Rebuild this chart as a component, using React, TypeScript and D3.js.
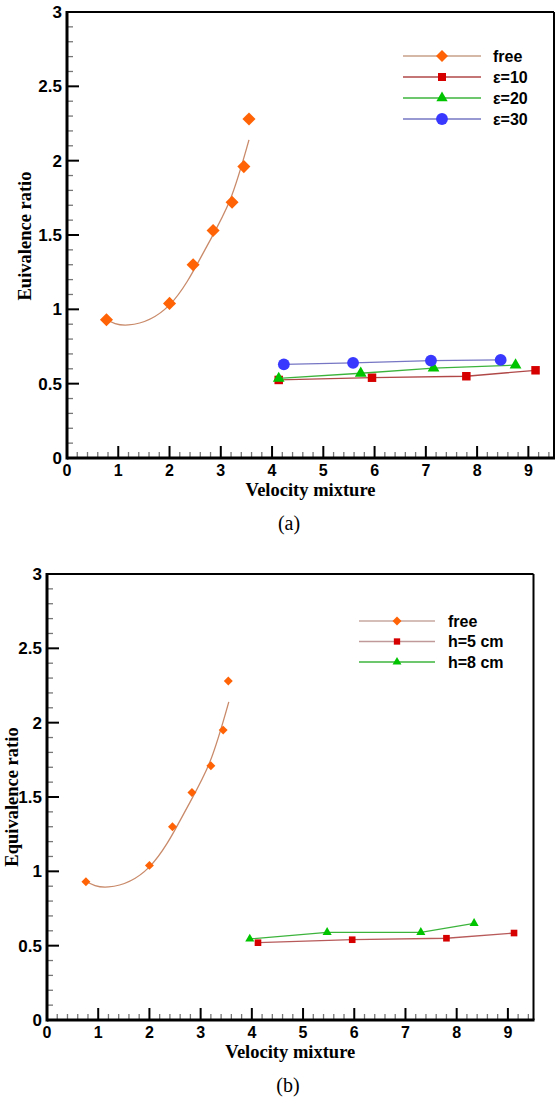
import * as d3 from "d3";
import React from "react";

// tick values
const xTicks = [0, 1, 2, 3, 4, 5, 6, 7, 8, 9];
const yTicks = [0, 0.5, 1, 1.5, 2, 2.5, 3];

// panel (a)
const freeAX = [0.77, 2.0, 2.46, 2.85, 3.22, 3.45, 3.55];
const freeAY = [0.93, 1.04, 1.3, 1.53, 1.72, 1.96, 2.28];
const eps10X = [4.13, 5.95, 7.79, 9.14];
const eps10Y = [0.525, 0.54, 0.55, 0.59];
const eps20X = [4.13, 5.73, 7.15, 8.75];
const eps20Y = [0.535, 0.57, 0.605, 0.625];
const eps30X = [4.23, 5.58, 7.1, 8.46];
const eps30Y = [0.63, 0.64, 0.655, 0.66];

// panel (b)
const freeBX = [0.76, 2.0, 2.45, 2.83, 3.2, 3.44, 3.54];
const freeBY = [0.93, 1.04, 1.3, 1.53, 1.71, 1.95, 2.28];
const h5X = [4.12, 5.96, 7.8, 9.12];
const h5Y = [0.52, 0.54, 0.55, 0.585];
const h8X = [3.96, 5.47, 7.3, 8.34];
const h8Y = [0.545, 0.59, 0.59, 0.65];

// trend curve through the free points
const fitX = [0.75, 1.2, 2.0, 2.69, 3.18, 3.55];
const fitY = [0.935, 0.895, 1.03, 1.4, 1.735, 2.14];

const zip = (xs: number[], ys: number[]) => xs.map((x, i) => [x, ys[i]] as [number, number]);

const markerPath = (kind: string, size: number) => {
  if (kind === "diamond") return d3.symbol(d3.symbolSquare, size)()!;
  if (kind === "square") return d3.symbol(d3.symbolSquare, size)()!;
  if (kind === "triangle") return d3.symbol(d3.symbolTriangle, size)()!;
  return d3.symbol(d3.symbolCircle, size)()!;
};

const Marker = ({ kind, size, fill, x, y }: any) => (
  <path
    d={markerPath(kind, size)}
    fill={fill}
    transform={`translate(${x},${y})${kind === "diamond" ? " rotate(45)" : ""}`}
  />
);

const sans = "'Liberation Sans', Arial, sans-serif";
const serif = "'Liberation Serif', 'Times New Roman', serif";

function Panel({ left, right, top, bottom, series, legend, yTitle, yTitleX, tag }: any) {
  const x = d3.scaleLinear().domain([0, 9.5]).range([left, right]);
  const y = d3.scaleLinear().domain([0, 3]).range([bottom, top]);
  const xMinor = d3.range(0, 9.5, 0.2).filter((v) => Math.abs(v - Math.round(v)) > 0.01);
  const yMinor = d3.range(0, 3, 0.1).filter((v) => Math.abs(v * 2 - Math.round(v * 2)) > 0.01);
  const line = d3.line<[number, number]>().x((d) => x(d[0])).y((d) => y(d[1]));
  const fitLine = d3
    .line<[number, number]>()
    .x((d) => x(d[0]))
    .y((d) => y(d[1]))
    .curve(d3.curveNatural);

  return (
    <g>
      {/* frame */}
      <line x1={left} x2={right} y1={top} y2={top} stroke="#000" strokeWidth={2} />
      <line x1={right} x2={right} y1={top} y2={bottom} stroke="#000" strokeWidth={2} />

      {/* minor ticks */}
      {xMinor.map((v) => (
        <line key={"xm" + v} x1={x(v)} x2={x(v)} y1={bottom} y2={bottom - 6} stroke="#777" strokeWidth={1.3} />
      ))}
      {yMinor.map((v) => (
        <line key={"ym" + v} x1={left} x2={left + 6} y1={y(v)} y2={y(v)} stroke="#777" strokeWidth={1.3} />
      ))}
      {/* major ticks */}
      {xTicks.map((v) => (
        <line key={"xM" + v} x1={x(v)} x2={x(v)} y1={bottom} y2={bottom - 12} stroke="#000" strokeWidth={2} />
      ))}
      {yTicks.map((v) => (
        <line key={"yM" + v} x1={left} x2={left + 12} y1={y(v)} y2={y(v)} stroke="#000" strokeWidth={2} />
      ))}

      {/* axes */}
      <line x1={left} x2={right + 1} y1={bottom} y2={bottom} stroke="#000" strokeWidth={3} />
      <line x1={left} x2={left} y1={top - 1} y2={bottom + 1.5} stroke="#000" strokeWidth={3} />

      {/* tick labels */}
      {xTicks.map((v) => (
        <text key={"xl" + v} x={x(v)} y={bottom + 17.5} textAnchor="middle" fontFamily={sans} fontWeight="bold" fontSize={16}>
          {v}
        </text>
      ))}
      {yTicks.map((v) => (
        <text key={"yl" + v} x={left - 5} y={y(v) + 6} textAnchor="end" fontFamily={sans} fontWeight="bold" fontSize={17}>
          {v}
        </text>
      ))}

      {/* titles */}
      <text x={(left + right) / 2} y={bottom + 37.5} textAnchor="middle" fontFamily={serif} fontWeight="bold" fontSize={18.5}>
        Velocity mixture
      </text>
      <text
        transform={`translate(${yTitleX},${yTitle.cy}) rotate(-90)`}
        textAnchor="middle"
        fontFamily={serif}
        fontWeight="bold"
        fontSize={18.5}
      >
        {yTitle.text}
      </text>
      <text x={tag.x} y={tag.y} textAnchor="middle" fontFamily={serif} fontSize={20}>
        {tag.text}
      </text>

      {/* fit curve */}
      <path d={fitLine(zip(fitX, fitY))!} fill="none" stroke="#c98a6a" strokeWidth={1.3} />

      {/* series */}
      {series.map((s: any) => (
        <g key={s.name}>
          {s.line && <path d={line(zip(s.xs, s.ys))!} fill="none" stroke={s.stroke} strokeWidth={1.3} />}
          {zip(s.xs, s.ys).map((d, i) => (
            <Marker key={i} kind={s.kind} size={s.size} fill={s.fill} x={x(d[0])} y={y(d[1])} />
          ))}
        </g>
      ))}

      {/* legend */}
      {series.map((s: any, i: number) => {
        const ly = legend.y0 + i * legend.dy;
        return (
          <g key={"lg" + s.name}>
            <line x1={legend.x1} x2={legend.x2} y1={ly} y2={ly} stroke={s.legendStroke} strokeWidth={1.5} />
            <Marker kind={s.kind} size={s.legendSize} fill={s.fill} x={(legend.x1 + legend.x2) / 2} y={ly} />
            <text x={legend.tx} y={ly + 5.5} fontFamily={sans} fontWeight="bold" fontSize={16}>
              {s.name}
            </text>
          </g>
        );
      })}
    </g>
  );
}

export default function App() {
  const seriesA = [
    { name: "free", xs: freeAX, ys: freeAY, kind: "diamond", size: 85, legendSize: 72, fill: "#ff6305", stroke: "#c98a6a", legendStroke: "#c9a08a", line: false },
    { name: "ε=10", xs: eps10X, ys: eps10Y, kind: "square", size: 72, legendSize: 64, fill: "#d60000", stroke: "#b04848", legendStroke: "#b04848", line: true },
    { name: "ε=20", xs: eps20X, ys: eps20Y, kind: "triangle", size: 60, legendSize: 55, fill: "#00c400", stroke: "#3cb43c", legendStroke: "#3cb43c", line: true },
    { name: "ε=30", xs: eps30X, ys: eps30Y, kind: "circle", size: 110, legendSize: 110, fill: "#3838ff", stroke: "#7676c4", legendStroke: "#7676c4", line: true },
  ];
  const seriesB = [
    { name: "free", xs: freeBX, ys: freeBY, kind: "diamond", size: 40, legendSize: 40, fill: "#ff6305", stroke: "#c98a6a", legendStroke: "#c9a8a0", line: false },
    { name: "h=5 cm", xs: h5X, ys: h5Y, kind: "square", size: 44, legendSize: 40, fill: "#d60000", stroke: "#b85a5a", legendStroke: "#c09a9a", line: true },
    { name: "h=8 cm", xs: h8X, ys: h8Y, kind: "triangle", size: 36, legendSize: 34, fill: "#00c400", stroke: "#3cb43c", legendStroke: "#3cb43c", line: true },
  ];

  return (
    <svg width={557} height={1103} style={{ position: "absolute", left: 0, top: 0, background: "#fff" }}>
      <Panel
        left={67}
        right={554}
        top={12}
        bottom={458}
        series={seriesA}
        legend={{ x1: 403, x2: 481, tx: 493, y0: 56, dy: 21 }}
        yTitle={{ text: "Euivalence ratio", cy: 236 }}
        yTitleX={31}
        tag={{ text: "(a)", x: 289, y: 530 }}
      />
      <Panel
        left={47}
        right={533.5}
        top={574}
        bottom={1020}
        series={seriesB}
        legend={{ x1: 359, x2: 435, tx: 448, y0: 621, dy: 20.5 }}
        yTitle={{ text: "Equivalence ratio", cy: 797 }}
        yTitleX={17.5}
        tag={{ text: "(b)", x: 288, y: 1092 }}
      />
    </svg>
  );
}
